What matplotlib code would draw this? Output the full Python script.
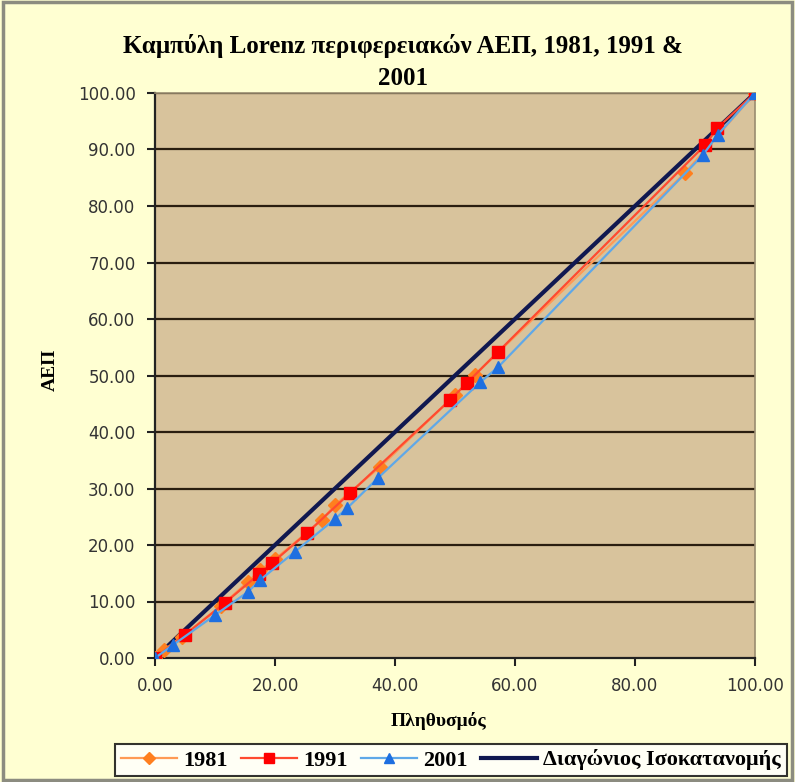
import matplotlib
matplotlib.use("Agg")
import matplotlib.pyplot as plt
from matplotlib.patches import Rectangle

# Data (population share %, GDP share %)
x1981 = [0, 1.5, 4.5, 11.0, 15.5, 17.5, 20.0, 27.8, 30.0, 37.5, 50.0, 53.3, 88.3, 100]
y1981 = [0, 1.4, 3.8, 9.2, 13.5, 15.5, 17.5, 24.4, 27.1, 33.8, 46.5, 50.1, 85.8, 100]
x1991 = [0, 5.0, 11.7, 17.4, 19.5, 25.3, 32.5, 49.2, 52.0, 57.2, 91.7, 93.7, 100]
y1991 = [0, 4.1, 9.8, 14.9, 16.8, 22.1, 29.2, 45.7, 48.7, 54.2, 90.8, 93.8, 100]
x2001 = [0, 3.0, 10.0, 15.5, 17.5, 23.3, 30.0, 32.0, 37.2, 54.2, 57.2, 91.3, 93.8, 100]
y2001 = [0, 2.3, 7.6, 11.7, 13.8, 18.8, 24.6, 26.5, 31.9, 48.8, 51.5, 89.0, 92.6, 100]
xdiag = [0, 100]
ydiag = [0, 100]

xticks = [0, 20, 40, 60, 80, 100]
yticks = [0, 10, 20, 30, 40, 50, 60, 70, 80, 90, 100]

title = "Καμπύλη Lorenz περιφερειακών ΑΕΠ, 1981, 1991 &\n2001"
xlabel = "Πληθυσμός"
ylabel = "ΑΕΠ"
labels = ["1981", "1991", "2001", "Διαγώνιος Ισοκατανομής"]

W, H = 795, 782
fig = plt.figure(figsize=(W / 100, H / 100), dpi=100)
fig.patch.set_facecolor("#FFFFD2")
fig.patches.append(Rectangle((0.004, 0.002), 0.992, 0.996, transform=fig.transFigure,
                             fill=False, edgecolor="#8C8C80", linewidth=2.5))

ax = fig.add_axes([155 / W, 1 - 658 / H, 600 / W, 565 / H])
ax.set_facecolor("#D8C39C")
ax.set_xlim(0, 100)
ax.set_ylim(0, 100)

for y in yticks[1:]:
    ax.axhline(y, color="#2A1E10", linewidth=1.6, zorder=1)

serif = "Liberation Serif"
l1, = ax.plot(x1981, y1981, color="#FF9A55", linewidth=1.6, marker="D", markersize=7.5,
              markerfacecolor="#FF7F1E", markeredgecolor="#FF7F1E", zorder=3)
l2, = ax.plot(x1991, y1991, color="#FF4A30", linewidth=1.6, marker="s", markersize=8.5,
              markerfacecolor="#FF0000", markeredgecolor="#FF0000", zorder=4)
l3, = ax.plot(x2001, y2001, color="#5FA8E8", linewidth=1.6, marker="^", markersize=9,
              markerfacecolor="#1E6FE0", markeredgecolor="#1E6FE0", zorder=5)
l4, = ax.plot(xdiag, ydiag, color="#101850", linewidth=3.0, zorder=2)

ax.set_xticks(xticks)
ax.set_yticks(yticks)
ax.set_xticklabels([f"{v:.2f}" for v in xticks])
ax.set_yticklabels([f"{v:.2f}" for v in yticks])
ax.tick_params(axis="both", direction="out", length=6, width=1.5, color="#222222",
               labelsize=12, labelcolor="#333333", pad=8)
for side in ["top", "right"]:
    ax.spines[side].set_color("#9A8C70")
    ax.spines[side].set_linewidth(1.2)
for side in ["left", "bottom"]:
    ax.spines[side].set_color("#222222")
    ax.spines[side].set_linewidth(1.6)

fig.text(403 / W, 1 - 62 / H, title, ha="center", va="center", fontfamily=serif,
         fontweight="bold", fontsize=18, linespacing=1.45)
fig.text(439 / W, 1 - 721 / H, xlabel, ha="center", va="center", fontfamily=serif,
         fontweight="bold", fontsize=14)
fig.text(50 / W, 1 - 370 / H, ylabel, ha="center", va="center", rotation=90,
         fontfamily=serif, fontweight="bold", fontsize=14)

leg = fig.legend([l1, l2, l3, l4], labels, loc="center", ncol=4,
                 bbox_to_anchor=(451 / W, 1 - 760 / H), frameon=True, fancybox=False,
                 prop={"family": serif, "weight": "bold", "size": 16},
                 handlelength=2.5, handletextpad=0.3, columnspacing=0.6,
                 borderpad=0.25, markerscale=0.8)
leg.get_frame().set_edgecolor("#000000")
leg.get_frame().set_linewidth(1.5)
leg.get_frame().set_facecolor("#FFFFFF")

fig.savefig("out.png", dpi=100, facecolor=fig.get_facecolor())
